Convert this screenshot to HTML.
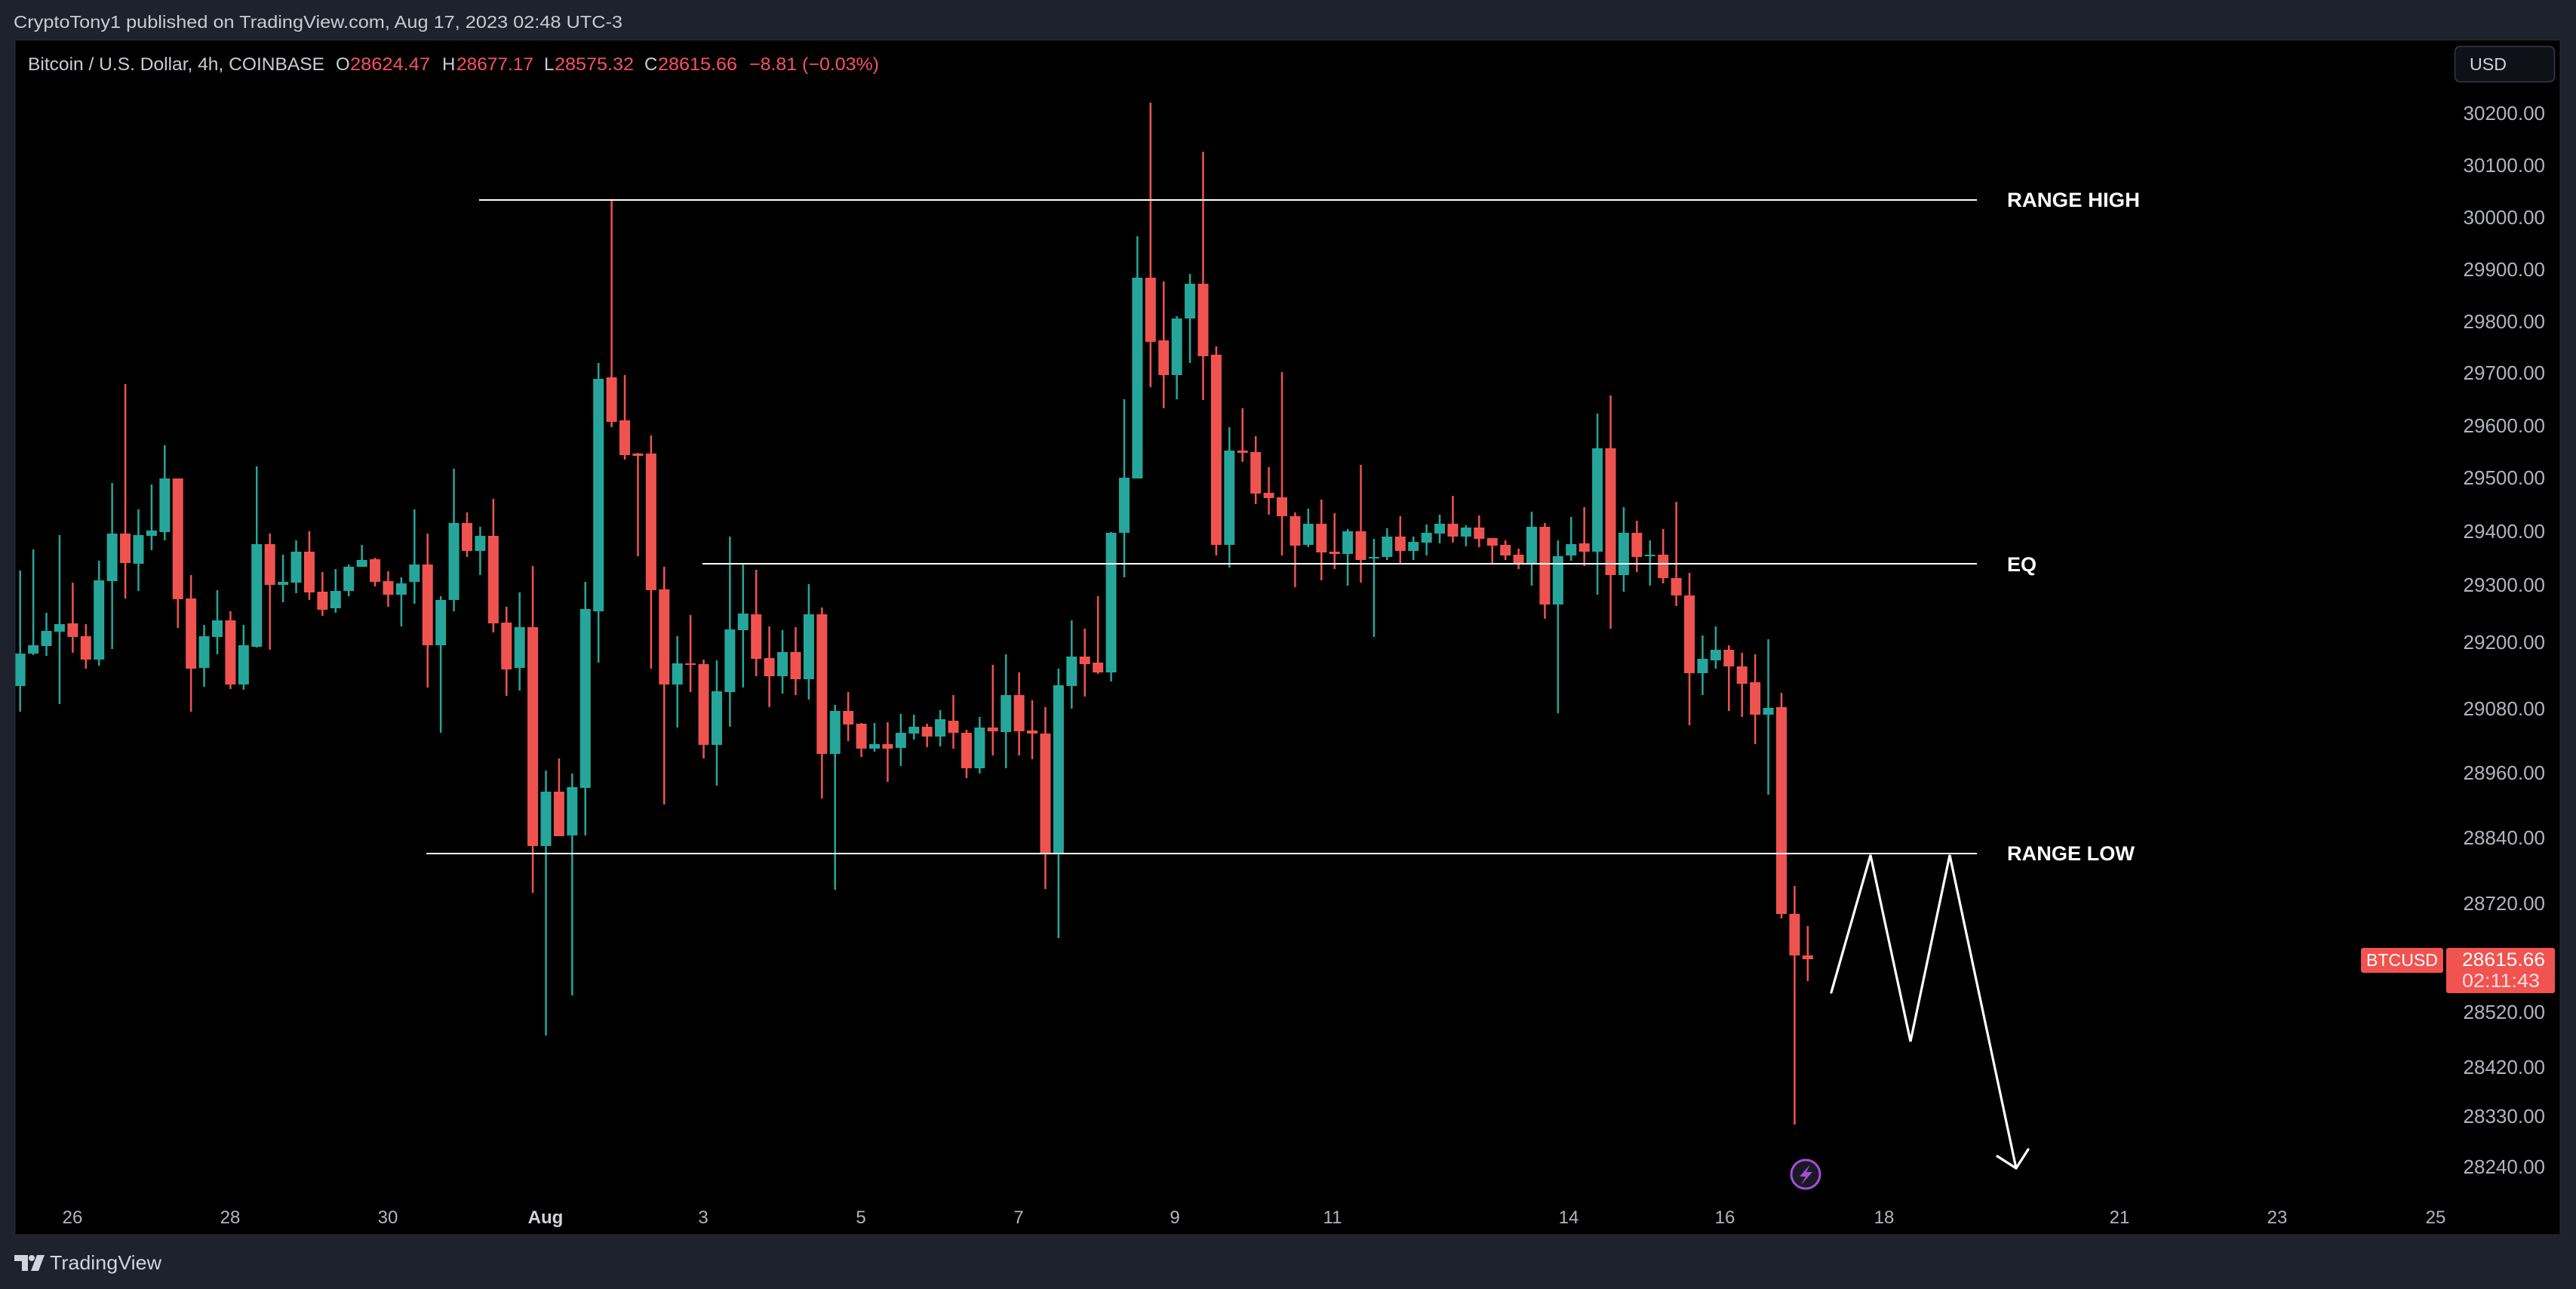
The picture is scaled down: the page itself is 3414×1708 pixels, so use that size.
<!DOCTYPE html>
<html>
<head>
<meta charset="utf-8">
<style>
  html,body{margin:0;padding:0;background:#1e222d;}
  body{width:3414px;height:1708px;overflow:hidden;}
  svg{display:block;}
  text{font-family:"Liberation Sans",Arial,sans-serif;}
</style>
</head>
<body>
<svg id="chart" width="3414" height="1708" viewBox="0 0 3414 1708" xmlns="http://www.w3.org/2000/svg">
  <rect x="0" y="0" width="3414" height="1708" fill="#1e222d"/>
  <!-- header -->
  <text x="18" y="37" font-size="23" fill="#c9ccd3" textLength="807" lengthAdjust="spacingAndGlyphs">CryptoTony1 published on TradingView.com, Aug 17, 2023 02:48 UTC-3</text>

  <!-- panel -->
  <rect x="20" y="53" width="3373" height="1583" fill="#000000" stroke="#2a2e39" stroke-width="1"/>

  <!-- legend -->
  <g font-size="24">
    <text x="37" y="93" fill="#c9ccd3" textLength="393" lengthAdjust="spacingAndGlyphs">Bitcoin / U.S. Dollar, 4h, COINBASE</text>
    <text x="445" y="93" fill="#c9ccd3">O</text>
    <text x="464" y="93" fill="#f7525f" textLength="106" lengthAdjust="spacingAndGlyphs">28624.47</text>
    <text x="586" y="93" fill="#c9ccd3">H</text>
    <text x="605" y="93" fill="#f7525f" textLength="102" lengthAdjust="spacingAndGlyphs">28677.17</text>
    <text x="721" y="93" fill="#c9ccd3">L</text>
    <text x="735" y="93" fill="#f7525f" textLength="105" lengthAdjust="spacingAndGlyphs">28575.32</text>
    <text x="854" y="93" fill="#c9ccd3">C</text>
    <text x="872" y="93" fill="#f7525f" textLength="105" lengthAdjust="spacingAndGlyphs">28615.66</text>
    <text x="993" y="93" fill="#f7525f" textLength="172" lengthAdjust="spacingAndGlyphs">−8.81 (−0.03%)</text>
  </g>

  <!-- USD button -->
  <rect x="3253.5" y="61.5" width="132" height="47" rx="7" fill="#0f1118" stroke="#363a45" stroke-width="1.5"/>
  <text x="3273" y="93" font-size="23" fill="#d1d4dc" textLength="49" lengthAdjust="spacingAndGlyphs">USD</text>

  <!-- price axis labels -->
  <g font-size="26" fill="#b2b5be" text-anchor="end">
    <text x="3373" y="159">30200.00</text>
    <text x="3373" y="228">30100.00</text>
    <text x="3373" y="297">30000.00</text>
    <text x="3373" y="366">29900.00</text>
    <text x="3373" y="435">29800.00</text>
    <text x="3373" y="503">29700.00</text>
    <text x="3373" y="573">29600.00</text>
    <text x="3373" y="642">29500.00</text>
    <text x="3373" y="713">29400.00</text>
    <text x="3373" y="784">29300.00</text>
    <text x="3373" y="860">29200.00</text>
    <text x="3373" y="948">29080.00</text>
    <text x="3373" y="1033">28960.00</text>
    <text x="3373" y="1119">28840.00</text>
    <text x="3373" y="1206">28720.00</text>
    <text x="3373" y="1350">28520.00</text>
    <text x="3373" y="1423">28420.00</text>
    <text x="3373" y="1488">28330.00</text>
    <text x="3373" y="1555">28240.00</text>
  </g>

  <!-- time axis labels -->
  <g font-size="24" fill="#b2b5be" text-anchor="middle">
    <text x="96" y="1621">26</text>
    <text x="305" y="1621">28</text>
    <text x="514" y="1621">30</text>
    <text x="723" y="1621" font-weight="bold" fill="#d1d4dc">Aug</text>
    <text x="932" y="1621">3</text>
    <text x="1141" y="1621">5</text>
    <text x="1350" y="1621">7</text>
    <text x="1557" y="1621">9</text>
    <text x="1766" y="1621">11</text>
    <text x="2079" y="1621">14</text>
    <text x="2286" y="1621">16</text>
    <text x="2497" y="1621">18</text>
    <text x="2809" y="1621">21</text>
    <text x="3018" y="1621">23</text>
    <text x="3228" y="1621">25</text>
  </g>

  <!-- candles container -->
  <g id="candles"></g>

  <!-- range lines -->
  <g stroke="#ffffff" stroke-width="2">
    <line x1="635" y1="265" x2="2620" y2="265"/>
    <line x1="931" y1="747" x2="2620" y2="747"/>
    <line x1="565" y1="1131" x2="2620" y2="1131"/>
  </g>
  <g font-size="27" font-weight="bold" fill="#ffffff">
    <text x="2660" y="274" textLength="176" lengthAdjust="spacingAndGlyphs">RANGE HIGH</text>
    <text x="2660" y="757" textLength="39" lengthAdjust="spacingAndGlyphs">EQ</text>
    <text x="2660" y="1140" textLength="169" lengthAdjust="spacingAndGlyphs">RANGE LOW</text>
  </g>

  <!-- zigzag projection -->
  <polyline points="2427,1315 2479,1133 2532,1380 2584,1133 2672,1548" fill="none" stroke="#ffffff" stroke-width="3.2" stroke-linejoin="miter" stroke-linecap="round"/>
  <polyline points="2647,1532 2672,1548 2688,1523" fill="none" stroke="#ffffff" stroke-width="3.2" stroke-linecap="round" stroke-linejoin="round"/>

  <!-- lightning icon -->
  <circle cx="2393" cy="1556" r="19" fill="#1b1925" stroke="#a44fd6" stroke-width="3"/>
  <polygon points="2399,1543 2385,1559 2393,1559 2387,1570 2402,1553 2394,1553" fill="#a44fd6"/>

  <!-- price tags -->
  <rect x="3129" y="1256" width="109" height="33" rx="3" fill="#f05350"/>
  <text x="3183.5" y="1280" font-size="23" fill="#ffffff" text-anchor="middle" textLength="95" lengthAdjust="spacingAndGlyphs">BTCUSD</text>
  <rect x="3242" y="1256" width="144" height="60" rx="3" fill="#f05350"/>
  <text x="3263" y="1280" font-size="25" fill="#ffffff" textLength="110" lengthAdjust="spacingAndGlyphs">28615.66</text>
  <text x="3263" y="1308" font-size="25" fill="#ffe0e0" textLength="103" lengthAdjust="spacingAndGlyphs">02:11:43</text>

  <!-- bottom logo -->
  <g fill="#d1d4dc">
    <path d="M19 1663 H37 V1684 H29 V1671 H19 Z"/>
    <circle cx="42" cy="1667" r="4"/>
    <polygon points="49,1663 59,1663 51,1684 41,1684"/>
  </g>
  <text x="66" y="1682" font-size="26" fill="#d1d4dc" textLength="148" lengthAdjust="spacingAndGlyphs">TradingView</text>
</svg>
<script>
(function(){
  var D = "g 756 866 909 943|g 728 855 866 868|g 812 836 856 869|g 709 827 837 933|r 772 826 844 865|r 827 843 874 886|g 743 769 874 882|g 640 707 770 860|r 509 707 746 793|g 675 709 747 783|g 642 703 710 729|g 590 634 705 716|r 634 634 794 832|r 762 793 886 943|g 828 843 885 910|g 782 822 844 867|r 810 822 907 913|g 828 855 907 914|g 618 721 857 858|r 707 721 775 861|g 735 771 775 798|g 716 731 772 786|r 704 731 785 795|r 758 784 808 816|g 754 783 806 812|g 748 751 783 790|g 722 742 751 751|r 739 741 771 777|r 757 770 788 804|g 765 773 788 830|g 675 748 771 800|r 707 748 855 911|g 790 795 855 971|g 621 693 795 810|r 679 693 730 738|g 698 710 730 762|r 661 710 826 838|r 804 825 887 922|g 785 831 885 915|r 750 831 1121 1183|g 1021 1049 1121 1372|r 1005 1049 1108 1108|g 1025 1043 1107 1319|g 771 807 1044 1107|g 481 502 810 878|r 266 500 559 566|r 497 557 603 609|r 600 601 604 737|r 577 601 782 886|r 751 781 907 1066|g 843 879 907 964|r 815 879 881 917|r 874 880 987 1005|g 875 916 987 1041|g 711 834 917 963|g 748 813 835 911|r 755 814 873 896|r 830 872 896 937|g 835 864 896 919|r 831 864 900 921|g 774 814 900 927|r 805 814 999 1058|g 934 942 999 1179|r 917 942 960 982|r 958 959 992 1003|g 958 986 992 996|r 957 986 992 1036|g 946 971 991 1015|g 947 963 972 980|r 959 963 976 990|g 941 953 976 989|r 921 955 971 992|r 967 971 1018 1031|g 950 964 1018 1025|r 881 964 969 1001|g 867 921 970 1018|r 891 921 969 1001|r 928 968 972 1006|r 937 972 1130 1178|g 886 908 1130 1243|g 822 870 909 939|r 833 870 880 923|r 790 878 891 893|g 705 706 891 903|g 529 633 706 765|g 313 368 634 634|r 136 368 453 513|r 373 451 497 541|g 419 422 497 529|g 363 376 422 481|r 201 376 472 530|r 459 470 722 736|g 566 597 722 752|r 541 597 600 612|r 578 599 654 668|r 619 653 660 682|r 493 659 684 736|r 679 684 723 778|g 674 694 722 725|r 662 694 732 769|r 680 731 734 754|g 701 704 734 776|r 616 704 742 772|g 714 738 740 844|g 700 711 738 742|r 684 711 730 747|g 711 718 730 742|g 695 706 719 736|g 682 694 707 720|r 657 694 711 719|g 696 699 711 724|r 683 699 714 725|r 713 713 723 747|r 716 722 736 742|r 727 735 748 754|g 678 698 748 776|r 693 698 801 820|g 716 737 801 945|g 685 721 736 743|r 672 720 731 750|g 548 594 731 788|r 524 594 762 833|g 672 706 762 784|r 690 706 738 758|g 716 735 737 776|r 701 735 766 773|r 665 766 789 803|r 759 789 892 961|g 842 873 892 921|g 830 861 875 886|r 855 861 883 942|r 865 883 906 950|r 867 904 947 986|g 847 938 947 1053|r 918 937 1211 1217|r 1174 1211 1266 1490|r 1227 1266 1271 1300";
  var NS = "http://www.w3.org/2000/svg";
  var g = document.getElementById("candles");
  var rows = D.split("|");
  for (var k = 0; k < rows.length; k++) {
    var p = rows[k].split(" ");
    var col = p[0] === "g" ? "#26a69a" : "#ef5350";
    var wt = +p[1], bt = +p[2], bb = +p[3], wb = +p[4];
    var x = 26.7 + 17.42 * k;
    var w = document.createElementNS(NS, "rect");
    w.setAttribute("x", (x - 1.25).toFixed(2));
    w.setAttribute("y", wt);
    w.setAttribute("width", 2.5);
    w.setAttribute("height", Math.max(1, wb - wt));
    w.setAttribute("fill", col);
    g.appendChild(w);
    var bx = Math.max(20.5, x - 7);
    var bw = (x + 7) - bx;
    var b = document.createElementNS(NS, "rect");
    b.setAttribute("x", bx.toFixed(2));
    b.setAttribute("y", bt);
    b.setAttribute("width", bw.toFixed(2));
    b.setAttribute("height", Math.max(2, bb - bt));
    b.setAttribute("fill", col);
    g.appendChild(b);
  }
})();
</script>
</body>
</html>
